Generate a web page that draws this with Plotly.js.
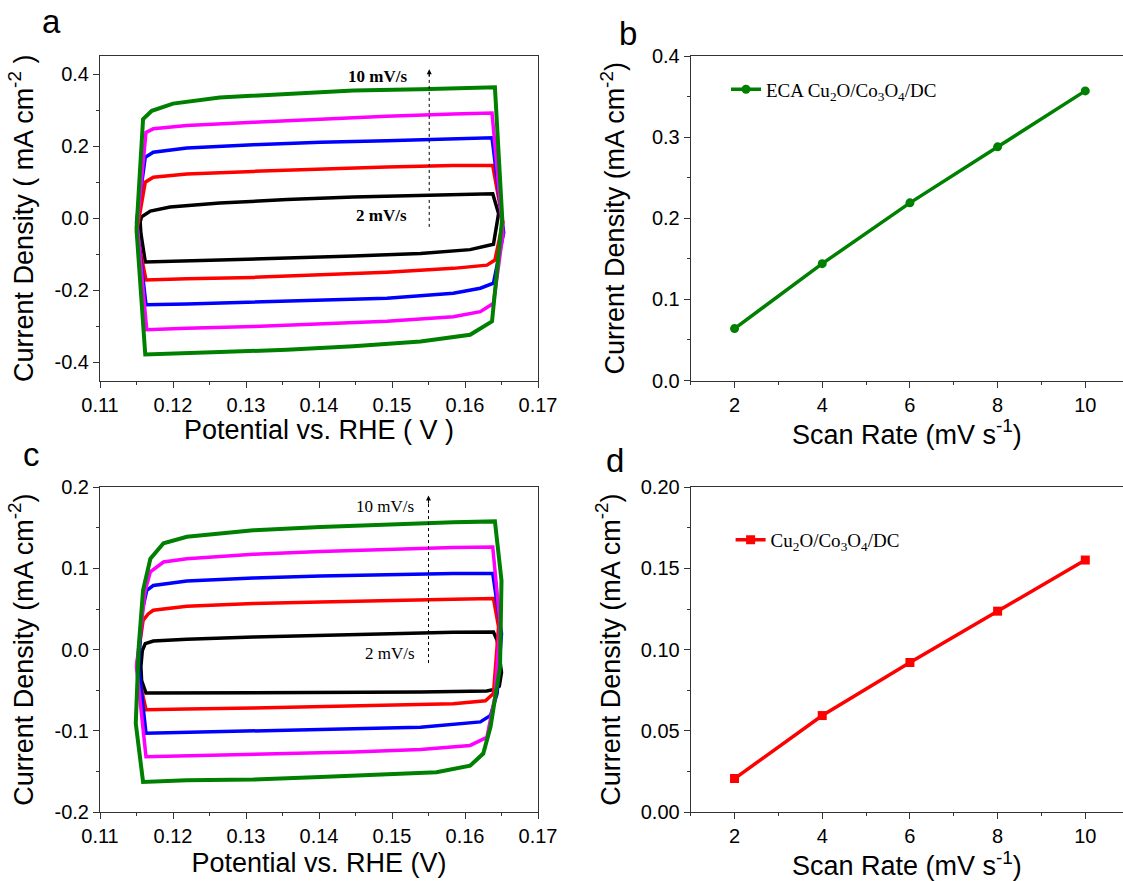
<!DOCTYPE html>
<html>
<head>
<meta charset="utf-8">
<script src="https://cdn.plot.ly/plotly-3.0.1.min.js"></script>
<style>html,body{margin:0;padding:0;background:#fff;overflow:hidden;}</style>
</head>
<body>
<div id="chart" style="width:1123px;height:881px;"></div>
<script>
// ---------- Panel a: CV curves (potential V, current density mA cm-2) ----------
const aBlackV = [0.1155, 0.1157, 0.1169, 0.1196, 0.1264, 0.1356, 0.1447, 0.1539, 0.1638, 0.1646, 0.1639, 0.1607, 0.1539, 0.1447, 0.1356, 0.1264, 0.1162, 0.1156, 0.1155];
const aBlackJ = [-0.010, 0.004, 0.020, 0.031, 0.042, 0.052, 0.059, 0.064, 0.068, 0.013, -0.072, -0.087, -0.098, -0.105, -0.111, -0.116, -0.121, -0.042, -0.010];
const aRedV = [0.1150, 0.1162, 0.1173, 0.1219, 0.1310, 0.1402, 0.1493, 0.1584, 0.1638, 0.1652, 0.1641, 0.1630, 0.1584, 0.1493, 0.1402, 0.1310, 0.1219, 0.1163, 0.1150];
const aRedJ = [-0.040, 0.100, 0.114, 0.123, 0.130, 0.137, 0.142, 0.146, 0.146, -0.010, -0.116, -0.130, -0.139, -0.150, -0.157, -0.164, -0.168, -0.171, -0.040];
const aBlueV = [0.1150, 0.1162, 0.1173, 0.1219, 0.1310, 0.1402, 0.1493, 0.1584, 0.1637, 0.1653, 0.1639, 0.1621, 0.1584, 0.1493, 0.1402, 0.1310, 0.1219, 0.1163, 0.1150];
const aBlueJ = [-0.010, 0.169, 0.183, 0.195, 0.204, 0.211, 0.215, 0.220, 0.223, -0.040, -0.180, -0.194, -0.208, -0.222, -0.228, -0.234, -0.238, -0.240, -0.010];
const aMagV = [0.1151, 0.1163, 0.1173, 0.1219, 0.1310, 0.1402, 0.1493, 0.1584, 0.1637, 0.1652, 0.1639, 0.1621, 0.1584, 0.1493, 0.1402, 0.1310, 0.1219, 0.1164, 0.1151];
const aMagJ = [-0.020, 0.238, 0.248, 0.257, 0.266, 0.275, 0.283, 0.289, 0.292, -0.042, -0.236, -0.259, -0.273, -0.286, -0.294, -0.300, -0.305, -0.309, -0.020];
const aGreenV = [0.1150, 0.1159, 0.1171, 0.1200, 0.1264, 0.1356, 0.1447, 0.1539, 0.1641, 0.1651, 0.1637, 0.1607, 0.1539, 0.1447, 0.1356, 0.1264, 0.1162, 0.1150];
const aGreenJ = [-0.030, 0.275, 0.298, 0.318, 0.335, 0.344, 0.354, 0.358, 0.363, 0.000, -0.286, -0.323, -0.342, -0.355, -0.365, -0.371, -0.378, -0.030];

// ---------- Panel c: CV curves ----------
const cBlackV = [0.1158, 0.1162, 0.1173, 0.1219, 0.1310, 0.1402, 0.1493, 0.1584, 0.1639, 0.1644, 0.1650, 0.1647, 0.1640, 0.1630, 0.1539, 0.1402, 0.1264, 0.1163, 0.1157, 0.1156, 0.1158];
const cBlackJ = [-0.001, 0.0074, 0.0106, 0.0127, 0.0155, 0.0176, 0.0197, 0.0213, 0.0217, 0.0115, -0.028, -0.045, -0.049, -0.051, -0.0523, -0.053, -0.053, -0.0535, -0.038, -0.021, -0.001];
const cRedV = [0.1150, 0.1159, 0.1166, 0.1173, 0.1219, 0.1310, 0.1402, 0.1493, 0.1584, 0.1639, 0.1646, 0.1639, 0.1628, 0.1584, 0.1493, 0.1402, 0.1310, 0.1219, 0.1163, 0.1150];
const cRedJ = [-0.021, 0.036, 0.044, 0.0485, 0.0534, 0.0567, 0.0587, 0.0608, 0.062, 0.0629, 0.028, -0.054, -0.063, -0.0666, -0.0687, -0.0708, -0.072, -0.0732, -0.074, -0.021];
const cBlueV = [0.1153, 0.1157, 0.1164, 0.1173, 0.1219, 0.1310, 0.1402, 0.1493, 0.1584, 0.1638, 0.1650, 0.1644, 0.1635, 0.1621, 0.1539, 0.1447, 0.1356, 0.1264, 0.1163, 0.1153];
const cBlueJ = [-0.021, 0.044, 0.073, 0.079, 0.0846, 0.0883, 0.0908, 0.0925, 0.0937, 0.0937, 0.0197, -0.054, -0.081, -0.089, -0.0955, -0.0974, -0.0995, -0.101, -0.103, -0.021];
const cMagV = [0.1150, 0.1162, 0.1169, 0.1187, 0.1219, 0.1310, 0.1402, 0.1493, 0.1584, 0.1638, 0.1648, 0.1641, 0.1630, 0.1607, 0.1539, 0.1447, 0.1356, 0.1264, 0.1163, 0.1150];
const cMagJ = [-0.021, 0.073, 0.096, 0.108, 0.112, 0.1175, 0.121, 0.1237, 0.1257, 0.1265, 0.032, -0.058, -0.108, -0.118, -0.123, -0.126, -0.128, -0.130, -0.132, -0.021];
const cGreenV = [0.1153, 0.1159, 0.1169, 0.1187, 0.1219, 0.1310, 0.1402, 0.1493, 0.1584, 0.1641, 0.1650, 0.1648, 0.1635, 0.1625, 0.1607, 0.1561, 0.1493, 0.1402, 0.1310, 0.1219, 0.1159, 0.1149, 0.1153];
const cGreenJ = [0.003, 0.073, 0.112, 0.131, 0.139, 0.147, 0.151, 0.1545, 0.157, 0.158, 0.085, -0.021, -0.095, -0.128, -0.143, -0.151, -0.154, -0.157, -0.160, -0.161, -0.163, -0.091, 0.003];

// ---------- Panels b and d: current density vs scan rate ----------
const scanRates = [2, 4, 6, 8, 10];
const bDensity = [0.064, 0.144, 0.219, 0.288, 0.357];
const dDensity = [0.0206, 0.0594, 0.0921, 0.1237, 0.1552];

// ---------- Tick labels ----------
const potentialTicks = [0.11, 0.12, 0.13, 0.14, 0.15, 0.16, 0.17];
const potentialLabels = ['0.11', '0.12', '0.13', '0.14', '0.15', '0.16', '0.17'];
const aYTicks = [-0.4, -0.2, 0.0, 0.2, 0.4];
const aYLabels = ['-0.4', '-0.2', '0.0', '0.2', '0.4'];
const cYTicks = [-0.2, -0.1, 0.0, 0.1, 0.2];
const cYLabels = ['-0.2', '-0.1', '0.0', '0.1', '0.2'];
const bYTicks = [0.0, 0.1, 0.2, 0.3, 0.4];
const bYLabels = ['0.0', '0.1', '0.2', '0.3', '0.4'];
const dYTicks = [0.00, 0.05, 0.10, 0.15, 0.20];
const dYLabels = ['0.00', '0.05', '0.10', '0.15', '0.20'];
const rateTicks = [2, 4, 6, 8, 10];
const rateLabels = ['2', '4', '6', '8', '10'];

const cvColors = ['#000000', '#ff0000', '#0000ff', '#ff00ff', '#008000'];
const SANS = 'Arial, "Liberation Sans", sans-serif';
const SERIF = '"Times New Roman", "Liberation Serif", serif';

function cv(x, y, color, xa, ya, w) {
  return {x: x, y: y, mode: 'lines', type: 'scatter', xaxis: xa, yaxis: ya,
    line: {color: color, width: w || 3.5}, showlegend: false, hoverinfo: 'skip'};
}

const traces = [
  cv(aBlackV, aBlackJ, cvColors[0], 'x', 'y'),
  cv(aRedV, aRedJ, cvColors[1], 'x', 'y'),
  cv(aBlueV, aBlueJ, cvColors[2], 'x', 'y'),
  cv(aMagV, aMagJ, cvColors[3], 'x', 'y'),
  cv(aGreenV, aGreenJ, cvColors[4], 'x', 'y', 4),
  cv(cBlackV, cBlackJ, cvColors[0], 'x3', 'y3'),
  cv(cRedV, cRedJ, cvColors[1], 'x3', 'y3'),
  cv(cBlueV, cBlueJ, cvColors[2], 'x3', 'y3'),
  cv(cMagV, cMagJ, cvColors[3], 'x3', 'y3'),
  cv(cGreenV, cGreenJ, cvColors[4], 'x3', 'y3', 4),
  {x: scanRates, y: bDensity, type: 'scatter', mode: 'lines+markers', xaxis: 'x2', yaxis: 'y2',
    name: 'ECA Cu<sub>2</sub>O/Co<sub>3</sub>O<sub>4</sub>/DC', legend: 'legend',
    line: {color: '#008000', width: 3.5}, marker: {symbol: 'circle', size: 9, color: '#008000'}},
  {x: scanRates, y: dDensity, type: 'scatter', mode: 'lines+markers', xaxis: 'x4', yaxis: 'y4',
    name: 'Cu<sub>2</sub>O/Co<sub>3</sub>O<sub>4</sub>/DC', legend: 'legend2',
    line: {color: '#ff0000', width: 3.5}, marker: {symbol: 'square', size: 9, color: '#ff0000'}}
];

const W = 1123, H = 881;
const leftDom = [100 / W, 538 / W];
const rightDom = [690.7 / W, 1];
const topDom = [1 - 380.5 / H, 1 - 56 / H];
const botDom = [1 - 812 / H, 1 - 487.3 / H];

function xAx(domain, anchor, range, tickvals, ticktext, minorDtick, title, standoff, mirror) {
  return {domain: domain, anchor: anchor, range: range, tickvals: tickvals, ticktext: ticktext,
    ticks: 'outside', ticklen: 6, tickwidth: 1, tickcolor: '#333',
    minor: {ticks: 'outside', ticklen: 3, tickwidth: 1, tickcolor: '#333', dtick: minorDtick, tick0: range[0]},
    showline: true, linecolor: '#333', linewidth: 1, mirror: mirror, showgrid: false, zeroline: false,
    tickfont: {family: SANS, size: 20, color: '#000'},
    title: {text: title, font: {family: SANS, size: 27, color: '#000'}, standoff: standoff}};
}
function yAx(domain, anchor, range, tickvals, ticktext, minorDtick, title, standoff, mirror) {
  return {domain: domain, anchor: anchor, range: range, tickvals: tickvals, ticktext: ticktext,
    ticks: 'outside', ticklen: 6, tickwidth: 1, tickcolor: '#333',
    minor: {ticks: 'outside', ticklen: 3, tickwidth: 1, tickcolor: '#333', dtick: minorDtick, tick0: 0},
    showline: true, linecolor: '#333', linewidth: 1, mirror: mirror, showgrid: false, zeroline: false,
    tickfont: {family: SANS, size: 20, color: '#000'},
    title: {text: title, font: {family: SANS, size: 27, color: '#000'}, standoff: standoff}};
}

const layout = {
  width: W, height: H,
  margin: {l: 0, r: 0, t: 0, b: 0},
  paper_bgcolor: '#fff', plot_bgcolor: '#fff',
  hovermode: false,
  showlegend: true,
  xaxis: xAx(leftDom, 'y', [0.11, 0.17], potentialTicks, potentialLabels, 0.005, 'Potential vs. RHE ( V )', 3, true),
  yaxis: yAx(topDom, 'x', [-0.45, 0.45], aYTicks, aYLabels, 0.1, 'Current Density ( mA cm<sup>-2</sup> )', 13, true),
  xaxis2: xAx(rightDom, 'y2', [1, 10.86], rateTicks, rateLabels, 1, 'Scan Rate (mV s<sup>-1</sup>)', 3, true),
  yaxis2: yAx(topDom, 'x2', [0, 0.4], bYTicks, bYLabels, 0.05, 'Current Density (mA cm<sup>-2</sup>)', 19, false),
  xaxis3: xAx(leftDom, 'y3', [0.11, 0.17], potentialTicks, potentialLabels, 0.005, 'Potential vs. RHE (V)', 7, true),
  yaxis3: yAx(botDom, 'x3', [-0.2, 0.2], cYTicks, cYLabels, 0.05, 'Current Density (mA cm<sup>-2</sup>)', 13, true),
  xaxis4: xAx(rightDom, 'y4', [1, 10.86], rateTicks, rateLabels, 1, 'Scan Rate (mV s<sup>-1</sup>)', 7, true),
  yaxis4: yAx(botDom, 'x4', [0, 0.2], dYTicks, dYLabels, 0.025, 'Current Density (mA cm<sup>-2</sup>)', 12, false),
  legend: {x: 726 / W, xanchor: 'left', y: 1 - 89.4 / H, yanchor: 'middle',
    font: {family: SERIF, size: 19, color: '#000'}, bgcolor: 'rgba(0,0,0,0)', borderwidth: 0},
  legend2: {x: 730.6 / W, xanchor: 'left', y: 1 - 540 / H, yanchor: 'middle',
    font: {family: SERIF, size: 19, color: '#000'}, bgcolor: 'rgba(0,0,0,0)', borderwidth: 0},
  shapes: [
    {type: 'line', xref: 'x', yref: 'y', x0: 0.1551, x1: 0.1551, y0: -0.024, y1: 0.40,
      line: {color: '#000', width: 1, dash: 'dot'}},
    {type: 'line', xref: 'x3', yref: 'y3', x0: 0.1550, x1: 0.1550, y0: -0.0165, y1: 0.183,
      line: {color: '#000', width: 1, dash: 'dot'}}
  ],
  annotations: [
    {xref: 'paper', yref: 'paper', x: 51 / W, y: 1 - 21.7 / H, text: 'a', showarrow: false,
      font: {family: SANS, size: 33, color: '#000'}, xanchor: 'center', yanchor: 'middle'},
    {xref: 'paper', yref: 'paper', x: 628 / W, y: 1 - 33.3 / H, text: 'b', showarrow: false,
      font: {family: SANS, size: 33, color: '#000'}, xanchor: 'center', yanchor: 'middle'},
    {xref: 'paper', yref: 'paper', x: 31 / W, y: 1 - 454.4 / H, text: 'c', showarrow: false,
      font: {family: SANS, size: 33, color: '#000'}, xanchor: 'center', yanchor: 'middle'},
    {xref: 'paper', yref: 'paper', x: 615 / W, y: 1 - 460 / H, text: 'd', showarrow: false,
      font: {family: SANS, size: 33, color: '#000'}, xanchor: 'center', yanchor: 'middle'},
    {xref: 'x', yref: 'y', x: 0.1480, y: 0.392, text: '<b>10 mV/s</b>', showarrow: false,
      font: {family: SERIF, size: 17, color: '#000'}},
    {xref: 'x', yref: 'y', x: 0.1485, y: 0.008, text: '<b>2 mV/s</b>', showarrow: false,
      font: {family: SERIF, size: 17, color: '#000'}},
    {xref: 'x', yref: 'y', axref: 'x', ayref: 'y', x: 0.1551, y: 0.413, ax: 0.1551, ay: 0.39,
      text: '', showarrow: true, arrowhead: 2, arrowsize: 1, arrowwidth: 1, arrowcolor: '#000'},
    {xref: 'x3', yref: 'y3', x: 0.1491, y: 0.1767, text: '10 mV/s', showarrow: false,
      font: {family: SERIF, size: 17, color: '#000'}},
    {xref: 'x3', yref: 'y3', x: 0.1497, y: -0.0046, text: '2 mV/s', showarrow: false,
      font: {family: SERIF, size: 17, color: '#000'}},
    {xref: 'x3', yref: 'y3', axref: 'x3', ayref: 'y3', x: 0.1550, y: 0.190, ax: 0.1550, ay: 0.178,
      text: '', showarrow: true, arrowhead: 2, arrowsize: 1, arrowwidth: 1, arrowcolor: '#000'}
  ]
};

Plotly.newPlot('chart', traces, layout, {staticPlot: true, displayModeBar: false});
</script>
</body>
</html>
